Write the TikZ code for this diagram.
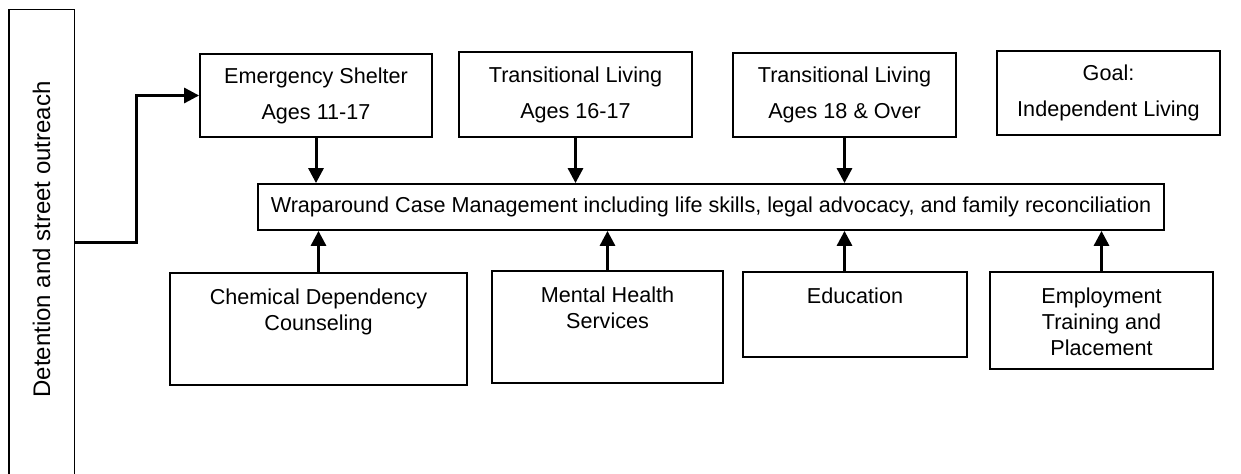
\documentclass[tikz,border=0pt]{standalone}
\usepackage{fontspec}
\setmainfont{Liberation Sans}
\usetikzlibrary{arrows.meta}
\usetikzlibrary{positioning}
\tikzstyle{stage} = [rectangle, draw=black, line width=0.9pt, align=center, font=\fontsize{10.8}{18}\selectfont]
\tikzstyle{service} = [rectangle, draw=black, line width=0.9pt]
\tikzstyle{inlabel} = [anchor=north, align=center, yshift=-5pt, font=\fontsize{10.8}{13}\selectfont]
\tikzstyle{arr} = [line width=1.5pt, -{Triangle[length=7.5pt,width=7.5pt]}]

\begin{document}
\begin{tikzpicture}[x=0.5pt, y=-0.5pt]
  \useasboundingbox (0,0) rectangle (1241,474);

  % left column, open at the bottom
  \node (det) [minimum width=32.5pt, minimum height=233pt, inner sep=0pt,
    label={[yshift=1.75pt, rotate=90, font=\fontsize{12}{14}\selectfont]center:Detention and street outreach}] at (41.5,243) {};
  \draw[line width=0.9pt] (det.south west) -- (det.north west) -- (det.north east) -- (det.south east);

  % stages
  \node (shelter) [stage, minimum width=116pt, minimum height=41.5pt] at (316,95.5) {Emergency Shelter\\Ages 11-17};
  \node (trans1) [stage, minimum width=116.5pt, minimum height=42.5pt] at (575.5,94.5) {Transitional Living\\Ages 16-17};
  \node (trans2) [stage, minimum width=111.5pt, minimum height=42pt] at (844.5,95) {Transitional Living\\Ages 18 \& Over};
  \node (goal) [stage, minimum width=111.5pt, minimum height=42pt] at (1108.5,93) {Goal:\\Independent Living};

  \node (wrap) [stage, minimum width=453pt, minimum height=23pt] at (711,207) {Wraparound Case Management including life skills, legal advocacy, and family reconciliation};

  % services
  \node (chem) [service, minimum width=148.5pt, minimum height=56pt, label={[inlabel]north:Chemical Dependency\\Counseling}] at (318.5,329) {};
  \node (mental) [service, minimum width=115.5pt, minimum height=56pt, label={[inlabel]north:Mental Health\\Services}] at (607.5,327) {};
  \node (edu) [service, minimum width=112pt, minimum height=42.5pt, label={[inlabel]north:Education}] at (855,314.5) {};
  \node (employ) [service, minimum width=111.5pt, minimum height=48.5pt, label={[inlabel]north:Employment\\Training and\\Placement}] at (1101.5,320.5) {};

  % connectors
  \draw[arr] (det.east) -- ++(62,0) |- (shelter.west);
  \draw[arr] (shelter.south) -- (shelter.south |- wrap.north);
  \draw[arr] (trans1.south) -- (trans1.south |- wrap.north);
  \draw[arr] (trans2.south) -- (trans2.south |- wrap.north);
  \draw[arr] (chem.north) -- (chem.north |- wrap.south);
  \draw[arr] (mental.north) -- (mental.north |- wrap.south);
  \draw[arr] (edu.north -| trans2.south) -- (trans2.south |- wrap.south);
  \draw[arr] (employ.north) -- (employ.north |- wrap.south);
\end{tikzpicture}
\end{document}
